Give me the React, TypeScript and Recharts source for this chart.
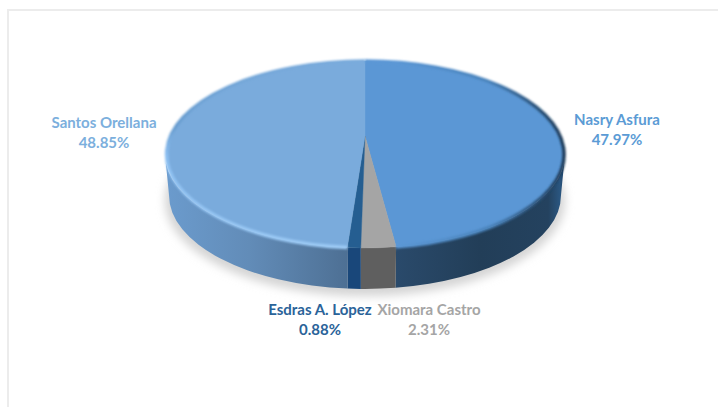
import { PieChart, Pie } from 'recharts';

const names = ['Nasry Asfura', 'Xiomara Castro', 'Esdras A. López', 'Santos Orellana'];
const shares = [47.97, 2.31, 0.88, 48.85];
const topColors = ['#5b97d5', '#a5a5a5', '#255e91', '#7aabdc'];
const wallColors = ['url(#wallRight)', '#5f5f5f', '#19477a', 'url(#wallLeft)'];
const labelColors = ['#5b9bd5', '#a5a5a5', '#2a6399', '#7cafdd'];

const chartData = names.map((name, i) => ({ name, value: shares[i], color: topColors[i], wall: wallColors[i], labelColor: labelColors[i] }));

// where each label sits, centre x and first line baseline
const labelSpots: Record<string, [number, number]> = {
  'Nasry Asfura': [617, 125],
  'Xiomara Castro': [429, 315],
  'Esdras A. López': [320, 315],
  'Santos Orellana': [104, 128],
};

// the disc is tilted, so the pie centre is not the ellipse centre
const ELLIPSE_RX = 200;
const ELLIPSE_RY = 93.5;
const ELLIPSE_CY = 154.5;
const APEX_Y = 136;
const K = 0.198;
const SQUASH = 89.8;
const RADIUS = 196;
const DEPTH = 41;
const EDGE_ANGLE = (Math.asin(K) * 180) / Math.PI;

const rimPoint = (cx: number, deg: number) => {
  const t = (deg * Math.PI) / 180;
  const w = 1 + K * Math.sin(t);
  return { x: cx + (RADIUS * Math.cos(t)) / w, y: APEX_Y - (SQUASH * Math.sin(t)) / w };
};

const TopShape = (props: any) => {
  const { cx, startAngle, endAngle, fill } = props;
  const a = rimPoint(cx, startAngle);
  const b = rimPoint(cx, endAngle);
  const d = `M${cx},${APEX_Y} L${a.x},${a.y} A${ELLIPSE_RX},${ELLIPSE_RY} 0 0 1 ${b.x},${b.y} Z`;
  return <path d={d} fill={fill} stroke={fill} strokeWidth={0.4} />;
};

const WallShape = (props: any) => {
  const { cx, startAngle, endAngle, payload } = props;
  const hi = Math.min(startAngle, -EDGE_ANGLE);
  const lo = Math.max(endAngle, -180 + EDGE_ANGLE);
  if (hi <= lo) return <g />;
  const a = rimPoint(cx, hi);
  const b = rimPoint(cx, lo);
  const shrink = 0.98;
  const ax = cx + (a.x - cx) * shrink;
  const bx = cx + (b.x - cx) * shrink;
  const d = `M${a.x},${a.y} A${ELLIPSE_RX},${ELLIPSE_RY} 0 0 1 ${b.x},${b.y} L${bx},${b.y + DEPTH} A${ELLIPSE_RX * shrink},${ELLIPSE_RY} 0 0 0 ${ax},${a.y + DEPTH} Z`;
  return <path d={d} fill={payload.wall} />;
};

// bevel along the edge of the top face
const RimShape = (props: any) => {
  const { cx, startAngle, endAngle, index } = props;
  if (index !== 0 && index !== 3) return <g />;
  const a = rimPoint(cx, startAngle);
  const b = rimPoint(cx, endAngle);
  const d = `M${a.x},${a.y} A${ELLIPSE_RX},${ELLIPSE_RY} 0 0 1 ${b.x},${b.y}`;
  return <path d={d} fill="none" stroke={index === 3 ? 'url(#rimLeft)' : 'url(#rimRight)'} strokeWidth={3.5} filter="url(#soft)" />;
};

const renderLabel = (entry: any) => {
  const [x, y] = labelSpots[entry.name];
  const color = entry.payload?.labelColor ?? entry.labelColor;
  return (
    <text x={x} y={y} textAnchor="middle" fill={color} fontFamily="Lato, sans-serif" fontWeight={700} fontSize={15}>
      <tspan x={x}>{entry.name}</tspan>
      <tspan x={x} dy={20}>{`${entry.value.toFixed(2)}%`}</tspan>
    </text>
  );
};

export default function App() {
  return (
    <div style={{ position: 'absolute', left: 0, top: 0, width: 718, height: 407, background: '#fff' }}>
      <div style={{ position: 'absolute', left: 7, top: 9, width: 711, height: 398, borderLeft: '2px solid #ececec', borderTop: '2px solid #ececec', boxSizing: 'border-box' }} />
      <PieChart width={718} height={407} margin={{ top: 0, right: 0, bottom: 0, left: 0 }} style={{ position: 'absolute', left: 0, top: 0 }}>
        <defs>
          <linearGradient id="wallLeft" gradientUnits="userSpaceOnUse" x1="166" y1="0" x2="350" y2="0">
            <stop offset="0" stopColor="#6b9bcd" />
            <stop offset="0.45" stopColor="#628cb8" />
            <stop offset="1" stopColor="#4d6f93" />
          </linearGradient>
          <linearGradient id="wallRight" gradientUnits="userSpaceOnUse" x1="396" y1="0" x2="565" y2="0">
            <stop offset="0" stopColor="#2a4a6b" />
            <stop offset="0.5" stopColor="#223e58" />
            <stop offset="0.9" stopColor="#24425f" />
            <stop offset="0.97" stopColor="#2a5680" />
            <stop offset="1" stopColor="#1f4266" />
          </linearGradient>
          <linearGradient id="rimLeft" gradientUnits="userSpaceOnUse" x1="0" y1="61" x2="0" y2="250">
            <stop offset="0" stopColor="#7aabdc" />
            <stop offset="0.35" stopColor="#6a9ed0" />
            <stop offset="0.5" stopColor="#8dc0f2" />
            <stop offset="1" stopColor="#9ccaf5" />
          </linearGradient>
          <linearGradient id="rimRight" gradientUnits="userSpaceOnUse" x1="396" y1="0" x2="565" y2="0">
            <stop offset="0" stopColor="#5b97d5" />
            <stop offset="0.55" stopColor="#4a83bb" />
            <stop offset="1" stopColor="#1d3a58" />
          </linearGradient>
          <filter id="soft" x="-10%" y="-10%" width="120%" height="120%">
            <feGaussianBlur stdDeviation="1" />
          </filter>
          <filter id="shadowBlur" x="-20%" y="-20%" width="140%" height="140%">
            <feGaussianBlur stdDeviation="5" />
          </filter>
        </defs>
        <ellipse cx={365} cy={ELLIPSE_CY + DEPTH + 5} rx={ELLIPSE_RX} ry={ELLIPSE_RY + 2} fill="#d4d4d4" filter="url(#shadowBlur)" />
        <Pie
          data={chartData}
          dataKey="value"
          cx={365}
          cy={ELLIPSE_CY}
          outerRadius={RADIUS}
          startAngle={90}
          endAngle={-270}
          stroke="none"
          label={false}
          isAnimationActive={false}
          shape={WallShape}
          inactiveShape={WallShape}
        />
        <Pie
          data={chartData}
          dataKey="value"
          cx={365}
          cy={ELLIPSE_CY}
          outerRadius={RADIUS}
          startAngle={90}
          endAngle={-270}
          stroke="none"
          fill="#5b97d5"
          labelLine={false}
          label={renderLabel}
          isAnimationActive={false}
          shape={(p: any) => <TopShape {...p} fill={p.payload.color} />}
          inactiveShape={(p: any) => <TopShape {...p} fill={p.payload.color} />}
        />
        <Pie
          data={chartData}
          dataKey="value"
          cx={365}
          cy={ELLIPSE_CY}
          outerRadius={RADIUS}
          startAngle={90}
          endAngle={-270}
          stroke="none"
          label={false}
          isAnimationActive={false}
          shape={RimShape}
          inactiveShape={RimShape}
        />
      </PieChart>
    </div>
  );
}
